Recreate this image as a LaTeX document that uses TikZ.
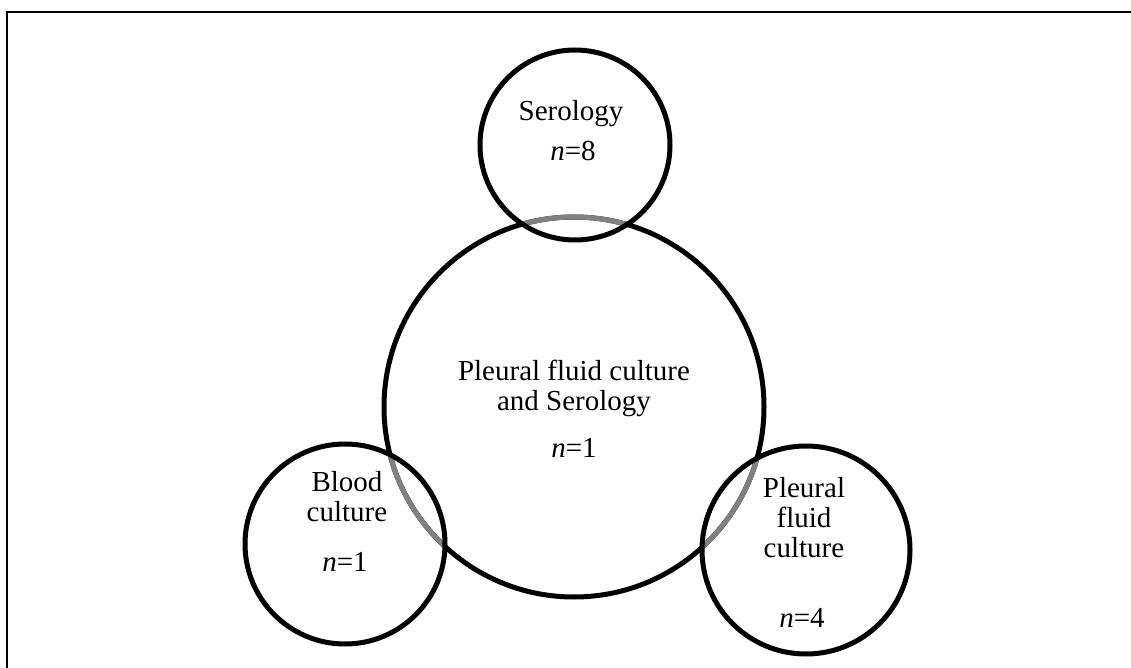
\documentclass[tikz,border=0pt]{standalone}
\usepackage{fontspec}
\setmainfont{Liberation Serif}
\definecolor{vennink}{HTML}{000000}
\definecolor{venngray}{HTML}{808080}
\newcommand{\bigring}{%
  \draw[vennink, line width=2.5pt] (574,407) circle (190);
}
\newcommand{\grayinside}[3]{%
  \begin{scope}
    \clip (#1,#2) circle (#3);
    \draw[venngray, line width=2.5pt] (574,407) circle (190);
  \end{scope}
}
\newcommand{\smallrings}{%
  \draw[vennink, line width=2.5pt] (575,145) circle (95);
  \draw[vennink, line width=2.5pt] (345,544) circle (100);
  \draw[vennink, line width=2.5pt] (806,550) circle (104);
}

\begin{document}
\begin{tikzpicture}[
  x=0.5pt,
  y=-0.5pt,
  every node/.style={font=\fontsize{14.5}{15}\selectfont, vennink, inner sep=0pt}
]
  \useasboundingbox (0,0) rectangle (1131,668);
  \draw[vennink, line width=1.2pt] (1131,12) -- (7,12) -- (7,668);

  \bigring
  \grayinside{575}{145}{95}
  \grayinside{345}{544}{100}
  \grayinside{806}{550}{104}
  \smallrings

  \node (serotitle) at (571,114) {Serology};
  \node (seron) at (573,151) {\textit{n}=8};

  \node[align=center] (bigtitle) at (574,388) {Pleural fluid culture\\and Serology};
  \node (bign) at (574,448) {\textit{n}=1};

  \node[align=center] (bloodtitle) at (347,497) {Blood\\culture};
  \node (bloodn) at (345,562) {\textit{n}=1};

  \node[align=center] (pleuraltitle) at (804,518) {Pleural\\fluid\\culture};
  \node (pleuraln) at (802,618) {\textit{n}=4};
\end{tikzpicture}
\end{document}
